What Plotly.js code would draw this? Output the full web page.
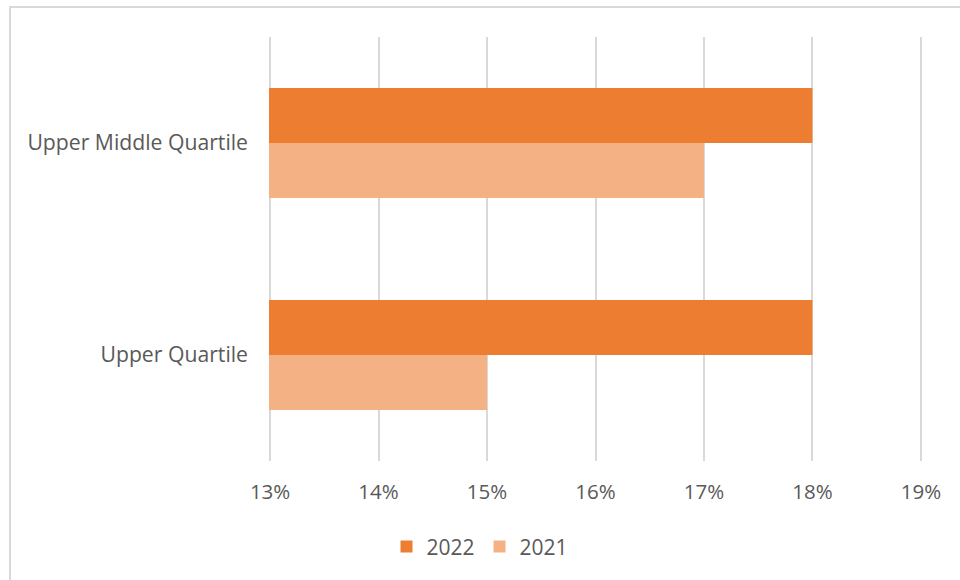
<!DOCTYPE html>
<html>
<head>
<meta charset="utf-8">
<script src="https://cdn.plot.ly/plotly-3.0.1.min.js"></script>
<style>
  html, body { margin: 0; padding: 0; background: #fff; }
  #wrap { position: relative; width: 960px; height: 580px; overflow: hidden; }
  #chart { position: absolute; left: 0; top: 0; width: 960px; height: 580px; }
  #frame { position: absolute; left: 9px; top: 6px; width: 1000px; height: 620px;
           border: 2px solid #d9d9d9; pointer-events: none; box-sizing: border-box; }
</style>
</head>
<body>
<div id="wrap">
  <div id="chart"></div>
  <div id="frame"></div>
</div>
<script>
const categories = ["Upper Quartile", "Upper Middle Quartile"];
const values2022 = [18, 18];
const values2021 = [15, 17];
const tickValues = [13, 14, 15, 16, 17, 18, 19];
const tickLabels = ["13%", "14%", "15%", "16%", "17%", "18%", "19%"];

const font = "Open Sans, sans-serif";

const traces = [
  { type: "bar", orientation: "h", name: "2021", y: categories, x: values2021,
    marker: { color: "#F4B183" }, hoverinfo: "x+y" },
  { type: "bar", orientation: "h", name: "2022", y: categories, x: values2022,
    marker: { color: "#ED7D31" }, hoverinfo: "x+y" }
];

const layout = {
  width: 960, height: 580,
  margin: { l: 269, r: 38, t: 37, b: 119 },
  paper_bgcolor: "#ffffff", plot_bgcolor: "#ffffff",
  barmode: "group", bargap: 0.48, bargroupgap: 0,
  font: { family: font, size: 20, color: "#595959" },
  xaxis: {
    range: [12.99, 19.01], tickvals: tickValues, ticktext: tickLabels,
    showgrid: true, gridcolor: "#d9d9d9", gridwidth: 2,
    zeroline: false, showline: false, ticks: "",
    ticklabelstandoff: 16,
    tickfont: { family: font, size: 20.5, color: "#595959" }
  },
  yaxis: {
    showgrid: false, zeroline: false, showline: false, ticks: "",
    ticklabelstandoff: 20,
    tickfont: { family: font, size: 21.2, color: "#595959" }
  },
  legend: {
    orientation: "h", x: 0.5, xanchor: "center", xref: "container",
    y: 0.057, yanchor: "middle", yref: "container",
    traceorder: "reversed",
    font: { family: font, size: 21, color: "#595959" },
    itemwidth: 30
  },
  showlegend: true
};

Plotly.newPlot("chart", traces, layout, { displayModeBar: false, staticPlot: true });
</script>
</body>
</html>
